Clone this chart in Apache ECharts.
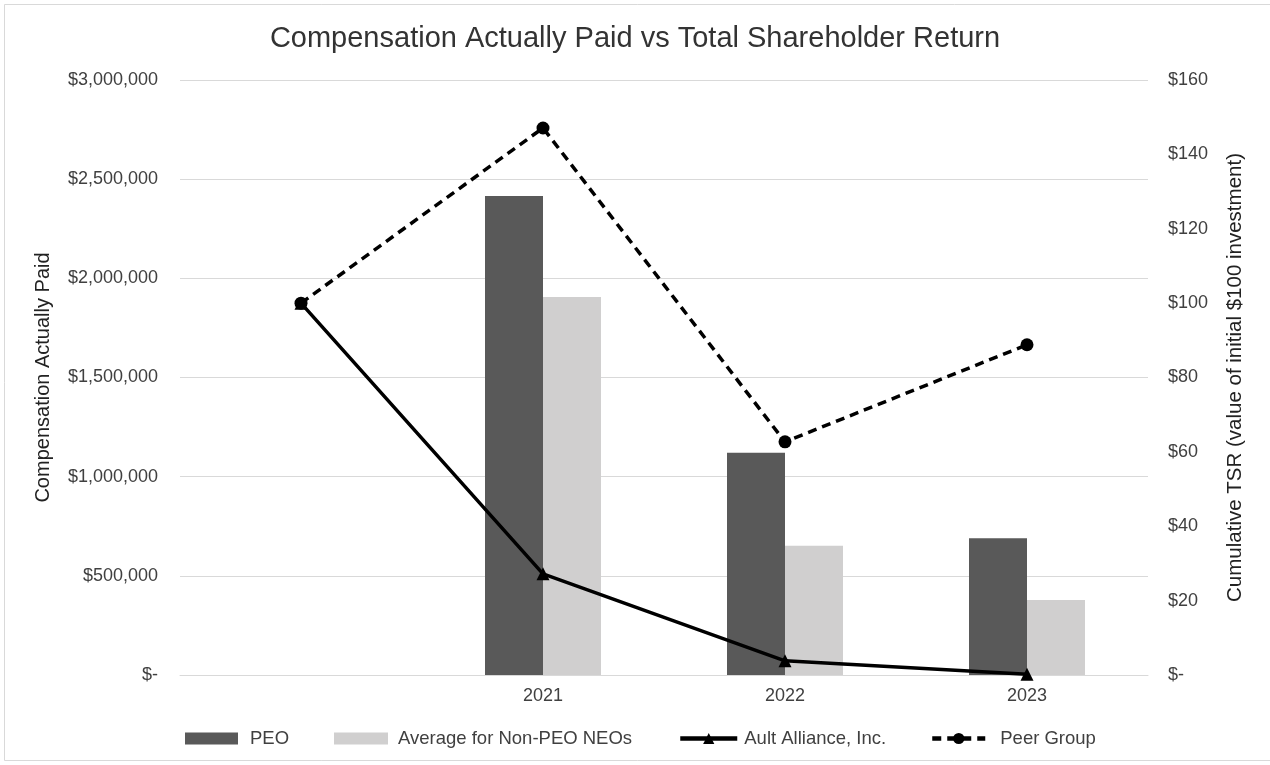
<!DOCTYPE html>
<html>
<head>
<meta charset="utf-8">
<script src="https://cdn.jsdelivr.net/npm/echarts@6/dist/echarts.min.js"></script>
<style>html,body{margin:0;padding:0;background:#fff}#c{width:1270px;height:765px}</style>
</head>
<body>
<div id="c"></div>
<script>
var categories = ['', '2021', '2022', '2023'];
var peo = [null, 2415000, 1120000, 690000];
var nonPeo = [null, 1906000, 652000, 378000];
var ault = [100, 27.2, 3.8, 0.2];
var peer = [100, 147.1, 62.7, 88.8];
var leftTicks = [0, 500000, 1000000, 1500000, 2000000, 2500000, 3000000];
var rightTicks = [0, 20, 40, 60, 80, 100, 120, 140, 160];

var chart = echarts.init(document.getElementById('c'));
var font = 'Liberation Sans, Arial, sans-serif';
var lblColor = '#404040';
function legendItem(name, left, w, h, pad, icon, line) {
  var o = {
    data: [name], left: left, top: 729, padding: 0, itemWidth: w, itemHeight: h, itemGap: 0,
    textStyle: {fontFamily: font, fontSize: 18.5, color: lblColor, padding: [0, 0, 0, pad]},
    selectedMode: false
  };
  if (icon) o.icon = icon;
  if (line) o.lineStyle = {width: 4.5};
  return o;
}
chart.setOption({
  animation: false,
  backgroundColor: '#fff',
  title: {
    text: 'Compensation Actually Paid vs Total Shareholder Return',
    left: 'center', top: 19,
    textStyle: {fontFamily: font, fontSize: 29, fontWeight: 'normal', color: '#333'}
  },
  graphic: [{
    type: 'rect', shape: {x: 4.5, y: 4.5, width: 1275, height: 756},
    style: {fill: 'none', stroke: '#d9d9d9', lineWidth: 1}, silent: true
  }],
  legend: [
    legendItem('PEO', 185, 53, 12, 7, 'rect'),
    legendItem('Average for Non-PEO NEOs', 334, 54, 12, 5, 'rect'),
    legendItem('Ault Alliance, Inc.', 678, 57, 14, 2, null, true),
    legendItem('Peer Group', 930, 53, 14, 10, null, true)
  ],
  grid: {left: 180, right: 122, top: 80, bottom: 90},
  xAxis: {
    type: 'category', data: categories, boundaryGap: true,
    axisLine: {lineStyle: {color: '#d9d9d9'}}, axisTick: {show: false},
    axisLabel: {fontFamily: font, fontSize: 18, color: lblColor, margin: 12}
  },
  yAxis: [{
    type: 'value', min: 0, max: 3000000, interval: 500000,
    name: 'Compensation Actually Paid', nameLocation: 'middle', nameGap: 127,
    nameTextStyle: {fontFamily: font, fontSize: 20, color: '#222'},
    axisLine: {show: false}, axisTick: {show: false},
    splitLine: {lineStyle: {color: '#d9d9d9'}},
    axisLabel: {fontFamily: font, fontSize: 18, color: lblColor, margin: 22,
      formatter: function (v) { return v === 0 ? '$-' : '$' + v.toLocaleString('en-US'); }}
  }, {
    type: 'value', min: 0, max: 160, interval: 20, position: 'right',
    name: 'Cumulative TSR (value of initial $100 investment)', nameLocation: 'middle', nameGap: 77,
    nameTextStyle: {fontFamily: font, fontSize: 20.5, color: '#222'},
    axisLine: {show: false}, axisTick: {show: false}, splitLine: {show: false},
    axisLabel: {fontFamily: font, fontSize: 18, color: lblColor, margin: 20,
      formatter: function (v) { return v === 0 ? '$-' : '$' + v; }}
  }],
  series: [{
    name: 'PEO', type: 'bar', data: peo, barWidth: 58, barGap: '0%',
    itemStyle: {color: '#595959'}
  }, {
    name: 'Average for Non-PEO NEOs', type: 'bar', data: nonPeo, barWidth: 58, barGap: '0%',
    itemStyle: {color: '#d0cfcf'}
  }, {
    name: 'Ault Alliance, Inc.', type: 'line', yAxisIndex: 1, data: ault,
    symbol: 'triangle', symbolSize: 13,
    lineStyle: {color: '#000', width: 3.5}, itemStyle: {color: '#000'}, z: 5
  }, {
    name: 'Peer Group', type: 'line', yAxisIndex: 1, data: peer,
    symbol: 'circle', symbolSize: 13,
    lineStyle: {color: '#000', width: 3.5, type: [9, 6]}, itemStyle: {color: '#000'}, z: 5
  }]
});
</script>
</body>
</html>
